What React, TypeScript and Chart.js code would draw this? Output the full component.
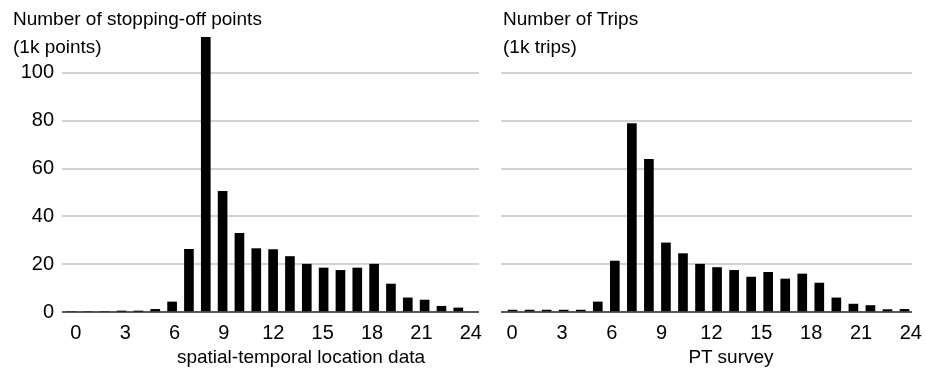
import React, { useEffect, useRef } from 'react';
import { Chart, registerables } from 'chart.js';

Chart.register(...registerables);

// ---- data ----
const HOURS = [0, 1, 2, 3, 4, 5, 6, 7, 8, 9, 10, 11, 12, 13, 14, 15, 16, 17, 18, 19, 20, 21, 22, 23];
const STOPPING_POINTS = [0, 0, 0, 0.3, 0.3, 1.1, 4.2, 26.2, 115, 50.5, 32.9, 26.5, 26.1, 23.2, 20.0, 18.4, 17.4, 18.4, 20.0, 11.7, 5.9, 5.0, 2.4, 1.7];
const PT_TRIPS = [0.8, 0.8, 0.8, 0.8, 0.8, 4.2, 21.3, 78.8, 63.8, 28.9, 24.4, 20.0, 18.6, 17.4, 14.6, 16.6, 13.8, 15.9, 12.1, 5.9, 3.3, 2.7, 1.0, 1.1];
const X_TICKS = [0, 3, 6, 9, 12, 15, 18, 21, 24];
const Y_TICKS = [0, 20, 40, 60, 80, 100];
const Y_MAX = 115;

const LEFT_TITLE = ['Number of stopping-off points', '(1k points)'];
const RIGHT_TITLE = ['Number of Trips', '(1k trips)'];
const LEFT_XTITLE = 'spatial-temporal location data';
const RIGHT_XTITLE = 'PT survey';

const FONT = '"Liberation Sans", Arial, Helvetica, sans-serif';

type Cfg = {
  values: number[];
  showY: boolean;
  yWidth: number;
  padRight: number;
  barMin: number;
  barMax: number;
  lblMin: number;
  lblMax: number;
};

function buildChart(canvas: HTMLCanvasElement, cfg: Cfg) {
  return new Chart(canvas, {
    type: 'bar',
    data: {
      datasets: [
        {
          data: HOURS.map((h, i) => ({ x: h, y: cfg.values[i] })),
          backgroundColor: '#000000',
          borderWidth: 0,
          barThickness: 9,
          xAxisID: 'x',
          yAxisID: 'y',
        },
      ],
    },
    options: {
      responsive: false,
      animation: false,
      events: [],
      layout: { padding: { left: 0, right: cfg.padRight, top: 37, bottom: 0 } },
      plugins: { legend: { display: false }, tooltip: { enabled: false }, title: { display: false } },
      scales: {
        x: {
          type: 'linear',
          display: false,
          offset: false,
          min: cfg.barMin,
          max: cfg.barMax,
          grid: { offset: false },
        },
        xl: {
          type: 'linear',
          position: 'bottom',
          offset: false,
          min: cfg.lblMin,
          max: cfg.lblMax,
          grid: { display: false, drawTicks: false, offset: false },
          border: { display: false },
          afterBuildTicks: (scale: any) => {
            scale.ticks = X_TICKS.map((v) => ({ value: v }));
          },
          afterFit: (scale: any) => {
            scale.height = 57;
            scale.paddingLeft = 0;
            scale.paddingRight = 0;
          },
          ticks: {
            autoSkip: false,
            maxRotation: 0,
            padding: 9,
            color: '#000000',
            font: { family: FONT, size: 20 },
            callback: (v: any) => String(v),
          },
        },
        y: {
          type: 'linear',
          min: 0,
          max: Y_MAX,
          afterBuildTicks: (scale: any) => {
            scale.ticks = Y_TICKS.map((v) => ({ value: v }));
          },
          afterFit: (scale: any) => {
            scale.width = cfg.yWidth;
            scale.paddingTop = 0;
            scale.paddingBottom = 0;
          },
          grid: {
            drawTicks: false,
            lineWidth: 2,
            color: (ctx: any) => (ctx.tick && ctx.tick.value === 0 ? '#5a5a5a' : '#d2d2d2'),
          },
          border: { display: false },
          ticks: {
            display: cfg.showY,
            padding: 8,
            color: '#000000',
            font: { family: FONT, size: 20 },
            callback: (v: any) => String(v),
          },
        },
      },
    },
  } as any);
}

function Panel(props: { left: number; width: number; cfg: Cfg }) {
  const ref = useRef<HTMLCanvasElement | null>(null);
  useEffect(() => {
    if (!ref.current) return;
    const chart = buildChart(ref.current, props.cfg);
    return () => chart.destroy();
  }, []);
  return (
    <canvas
      ref={ref}
      width={props.width}
      height={369}
      style={{ position: 'absolute', left: props.left, top: 0, width: props.width, height: 369 }}
    />
  );
}

const titleStyle: React.CSSProperties = {
  position: 'absolute',
  top: 5,
  fontFamily: FONT,
  fontSize: 19,
  lineHeight: '28px',
  color: '#000',
  whiteSpace: 'nowrap',
};

const xTitleStyle: React.CSSProperties = {
  position: 'absolute',
  top: 346,
  width: 400,
  textAlign: 'center',
  fontFamily: FONT,
  fontSize: 19,
  lineHeight: '22px',
  color: '#000',
  whiteSpace: 'nowrap',
};

export default function App() {
  return (
    <div
      style={{
        position: 'fixed',
        left: 0,
        top: 0,
        width: 925,
        height: 369,
        background: '#ffffff',
        overflow: 'hidden',
      }}
    >
      <Panel
        left={0}
        width={488}
        cfg={{
          values: STOPPING_POINTS,
          showY: true,
          yWidth: 62,
          padRight: 9,
          barMin: -0.54,
          barMax: 24.23,
          lblMin: -0.84,
          lblMax: 24.5,
        }}
      />
      <Panel
        left={488}
        width={437}
        cfg={{
          values: PT_TRIPS,
          showY: false,
          yWidth: 13,
          padRight: 13,
          barMin: -0.68,
          barMax: 23.44,
          lblMin: -0.67,
          lblMax: 24.07,
        }}
      />
      <div style={{ ...titleStyle, left: 13 }}>
        {LEFT_TITLE.map((t) => (
          <div key={t}>{t}</div>
        ))}
      </div>
      <div style={{ ...titleStyle, left: 503 }}>
        {RIGHT_TITLE.map((t) => (
          <div key={t}>{t}</div>
        ))}
      </div>
      <div style={{ ...xTitleStyle, left: 301 - 200 }}>{LEFT_XTITLE}</div>
      <div style={{ ...xTitleStyle, left: 731 - 200 }}>{RIGHT_XTITLE}</div>
    </div>
  );
}
